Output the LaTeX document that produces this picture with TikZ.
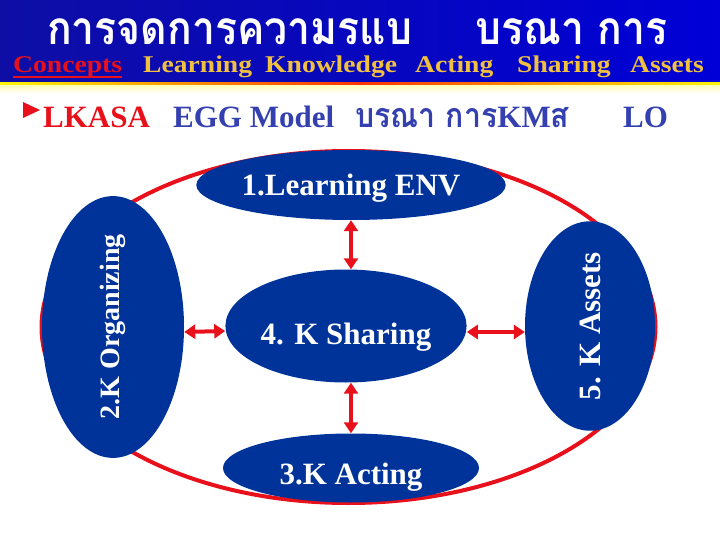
\documentclass[tikz,border=0pt]{standalone}
\usepackage{fontspec}
\setmainfont{Liberation Serif}
\newfontfamily\thaifont[Script=Thai,FakeStretch=0.89]{Loma}
\newfontfamily\wideserif[FakeStretch=1.15]{Liberation Serif}
\usetikzlibrary{shapes.geometric,arrows.meta}
\definecolor{navy}{RGB}{0,51,153}
\definecolor{kred}{RGB}{232,16,26}
\definecolor{gold}{RGB}{240,192,64}
\definecolor{bandL}{RGB}{14,14,165}
\definecolor{bandR}{RGB}{0,0,215}
\definecolor{tblue}{RGB}{52,64,176}
\newcommand{\lowerby}[2]{\raisebox{-#1}[22pt][7pt]{#2}}
\tikzset{
  blob/.style={ellipse, fill=navy, inner sep=0pt, text=white, font=\bfseries\fontsize{31}{31}\selectfont},
  ttl/.style={anchor=base west, inner sep=0pt, text depth=2pt, text height=30pt, text=white, font=\thaifont\bfseries\fontsize{46}{46}\selectfont},
  sub/.style={anchor=base west, inner sep=0pt, font=\wideserif\bfseries\fontsize{24}{24}\selectfont, text=gold},
  lin/.style={anchor=base west, inner sep=0pt, font=\bfseries\fontsize{31}{31}\selectfont, text=tblue},
  arr/.style={draw=kred, line width=4pt, {Triangle[width=14pt,length=11pt]}-{Triangle[width=14pt,length=11pt]}},
}
\begin{document}
\begin{tikzpicture}[x=1pt,y=-1pt]
\useasboundingbox (0,0) rectangle (720,540);
% header band
\shade[left color=bandL, right color=bandR] (0,0) rectangle (720,83);
\shade[left color=red!60!orange, right color=yellow!95!orange] (360,82.5) rectangle (720,86);
\shade[left color=yellow!95!orange, right color=red!60!orange] (0,82.5) rectangle (360,86);
\shade[top color=yellow!25, bottom color=white] (0,86) rectangle (720,94);
% title
\node[ttl] (t1) at (47,45) {การจดการความรแบ};
\node[ttl] (t2) at (475,45) {บรณา การ};
% subtitle
\node[sub, text=kred] (c) at (13,73) {Concepts};
\draw[kred, line width=1.8pt] ([yshift=-4pt]c.base west) -- ([yshift=-4pt]c.base east);
\node[sub] (s1) at (143,73) {Learning};
\node[sub] (s2) at (265,73) {Knowledge};
\node[sub] (s3) at (415,73) {Acting};
\node[sub] (s4) at (517,73) {Sharing};
\node[sub] (s5) at (630,73) {Assets};
% second line
\fill[kred] (23,102) -- (40,110) -- (23,118) -- cycle;
\node[lin, text=kred] (l1) at (43,128) {LKASA};
\node[lin] (l2) at (173,128) {EGG Model};
\node[lin] (l3) at (355,128) {{\thaifont\fontsize{34}{34}\selectfont บรณา การ}KM{\thaifont\fontsize{34}{34}\selectfont ส}};
\node[lin] (l4) at (623,128) {LO};
% outer ellipse
\node[draw=kred, line width=4pt, ellipse, minimum width=614pt, minimum height=352pt, inner sep=0pt] (outer) at (348.5,327) {};
% blobs
\node[blob, minimum width=256pt, minimum height=70pt] (learn) at (351,185) {\lowerby{3pt}{1.Learning ENV}};
\node[blob, minimum width=234pt, minimum height=113pt] (share) at (346,326) {\lowerby{11pt}{4. K Sharing}};
\node[blob, minimum width=256pt, minimum height=69pt] (act) at (351,468) {\lowerby{9pt}{3.K Acting}};
\node[blob, rotate=90, minimum width=192pt, minimum height=142pt, font=\bfseries\fontsize{28}{28}\selectfont] (org) at (113,327) {2.K Organizing};
\node[blob, rotate=90, minimum width=192pt, minimum height=130pt] (ast) at (590,326) {5. K Assets};
% arrows
\draw[arr] (learn.south) -- (learn.south |- share.north);
\draw[arr] (act.north |- share.south) -- (act.north);
\draw[arr] ([yshift=-5pt]org.south) -- ([yshift=-5pt]share.west);
\draw[arr] ([yshift=-6pt]share.east) -- ([yshift=-6pt]ast.north);
\end{tikzpicture}
\end{document}
